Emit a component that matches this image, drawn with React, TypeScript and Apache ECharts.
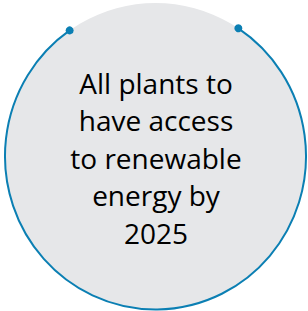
import React, { useEffect, useRef } from "react";
import * as echarts from "echarts";

const textLines: string[] = ["All plants to", "have access", "to renewable", "energy by", "2025"];
const arcStartDeg = -56.6;
const arcEndDeg = 235.2;

export default function App() {
  const ref = useRef<HTMLDivElement>(null);
  useEffect(() => {
    if (!ref.current) return;
    const chart = echarts.init(ref.current, null, { renderer: "svg" });
    const cx = 155.5;
    const cy = 156.25;
    const r = 150.5;
    const sy = 153.25 / 150.5;
    const blue = "#0b7fb3";
    const toRad = (d: number) => (d * Math.PI) / 180;
    const pt = (d: number) => [r * Math.cos(toRad(d)), r * Math.sin(toRad(d)) * sy];
    const p1 = pt(arcStartDeg);
    const p2 = pt(arcEndDeg);
    chart.setOption({
      animation: false,
      backgroundColor: "#ffffff",
      graphic: [
        {
          type: "group",
          x: cx,
          y: cy,
          children: [
            {
              type: "circle",
              scaleY: sy,
              shape: { cx: 0, cy: 0, r },
              style: { fill: "#e6e7e9" },
            },
            {
              type: "arc",
              scaleY: sy,
              shape: { cx: 0, cy: 0, r, startAngle: toRad(arcStartDeg), endAngle: toRad(arcEndDeg), clockwise: true },
              style: { stroke: blue, lineWidth: 2, fill: "none" },
            },
            { type: "circle", shape: { cx: p1[0], cy: p1[1], r: 4 }, style: { fill: blue } },
            { type: "circle", shape: { cx: p2[0], cy: p2[1], r: 4 }, style: { fill: blue } },
          ],
        },
        {
          type: "text",
          x: 156,
          y: 157.5,
          style: {
            text: textLines.join("\n"),
            fontFamily: "Open Sans",
            fontSize: 28,
            lineHeight: 37.5,
            fill: "#000000",
            align: "center",
            verticalAlign: "middle",
          },
        },
      ],
    });
    return () => chart.dispose();
  }, []);
  return <div ref={ref} style={{ position: "fixed", left: 0, top: 0, width: 308, height: 311 }} />;
}
